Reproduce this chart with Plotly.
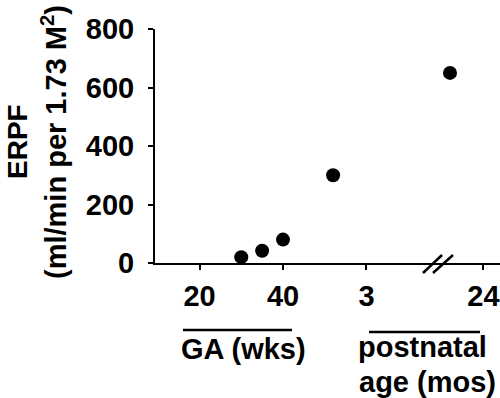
import plotly.graph_objects as go

# Data (x positions on a schematic axis: weeks GA, then postnatal months after break)
x_pos = [30, 35, 40, 52, 80]
erpf = [20, 42, 80, 300, 650]

x_tickvals = [20, 40, 60, 88]
x_ticktext = ["20", "40", "3", "24"]
y_tickvals = [0, 200, 400, 600, 800]
y_ticktext = ["0", "200", "400", "600", "800"]

FONT = "Liberation Sans, Arial, sans-serif"
TICK_SIZE = 29
LABEL_SIZE = 29

fig = go.Figure()
fig.add_trace(go.Scatter(
    x=x_pos, y=erpf, mode="markers",
    marker=dict(color="black", size=14),
    cliponaxis=False, showlegend=False,
))

fig.update_layout(
    width=500, height=398,
    margin=dict(l=155, r=0, t=29, b=135),
    paper_bgcolor="white", plot_bgcolor="white",
    font=dict(family=FONT, color="black", size=LABEL_SIZE, weight="bold"),
    xaxis=dict(
        range=[9.34, 91.98], showgrid=False, zeroline=False,
        showline=True, linecolor="black", linewidth=2,
        ticks="outside", ticklen=5, tickwidth=2, tickcolor="black",
        tickvals=x_tickvals, ticktext=x_ticktext,
        tickfont=dict(family=FONT, size=TICK_SIZE, color="black", weight="bold"),
        ticklabelstandoff=1, ticklabeloverflow="allow",
    ),
    yaxis=dict(
        range=[0, 800], showgrid=False, zeroline=False,
        showline=True, linecolor="black", linewidth=2,
        ticks="outside", ticklen=5, tickwidth=2, tickcolor="black",
        tickvals=y_tickvals, ticktext=y_ticktext,
        tickfont=dict(family=FONT, size=TICK_SIZE, color="black", weight="bold"),
        ticklabelstandoff=8, ticklabeloverflow="allow",
    ),
)

def px_to_py(py):
    return (263 - py) / 234.0

def px_to_px(px):
    return (px - 155) / 345.0

# axis break marks
for x0, x1 in [(423, 442), (433, 453)]:
    fig.add_shape(type="line", xref="paper", yref="paper",
                  x0=px_to_px(x0), x1=px_to_px(x1),
                  y0=px_to_py(273), y1=px_to_py(255),
                  line=dict(color="black", width=2.5))

# overlines for group labels
fig.add_shape(type="line", xref="paper", yref="paper",
              x0=px_to_px(183), x1=px_to_px(292), y0=px_to_py(330), y1=px_to_py(330),
              line=dict(color="black", width=2.5))
fig.add_shape(type="line", xref="paper", yref="paper",
              x0=px_to_px(369), x1=px_to_px(480), y0=px_to_py(332), y1=px_to_py(332),
              line=dict(color="black", width=2.5))

ann_font = dict(family=FONT, size=LABEL_SIZE, color="black", weight="bold")
fig.add_annotation(text="GA (wks)", xref="paper", yref="paper",
                   x=px_to_px(243.5), y=px_to_py(349), xanchor="center", yanchor="middle",
                   showarrow=False, font=ann_font)
fig.add_annotation(text="postnatal", xref="paper", yref="paper",
                   x=px_to_px(422), y=px_to_py(347), xanchor="center", yanchor="middle",
                   showarrow=False, font=ann_font)
fig.add_annotation(text="age (mos)", xref="paper", yref="paper",
                   x=px_to_px(427), y=px_to_py(382), xanchor="center", yanchor="middle",
                   showarrow=False, font=ann_font)

# y-axis title (two lines)
fig.add_annotation(text="ERPF", xref="paper", yref="paper",
                   x=px_to_px(17), y=px_to_py(142), xanchor="center", yanchor="middle",
                   textangle=-90, showarrow=False,
                   font=dict(family=FONT, size=28, color="black", weight="bold"))
fig.add_annotation(text="(ml/min per 1.73 M<sup>2</sup>)", xref="paper", yref="paper",
                   x=px_to_px(54), y=px_to_py(142), xanchor="center", yanchor="middle",
                   textangle=-90, showarrow=False, font=ann_font)

fig.write_html("out.html", config={"displayModeBar": False},
               post_script="document.body.style.margin='0';")
